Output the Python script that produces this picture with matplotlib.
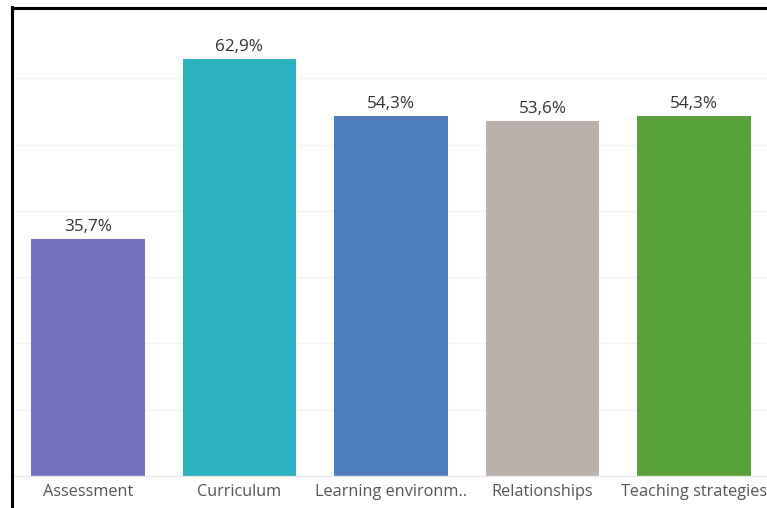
import matplotlib
matplotlib.use("Agg")
import matplotlib.pyplot as plt
from matplotlib.lines import Line2D

categories = ["Assessment", "Curriculum", "Learning environm..", "Relationships", "Teaching strategies"]
values = [35.7, 62.9, 54.3, 53.6, 54.3]
colors = ["#7672BE", "#2DB3BF", "#4F7DBB", "#BAB1AC", "#59A23B"]

plt.rcParams["font.family"] = ["Open Sans", "DejaVu Sans"]

W, H = 767, 508
fig = plt.figure(figsize=(W / 100, H / 100), dpi=100)
ax = fig.add_axes([12 / W, (H - 476) / H, 758 / W, (476 - 8) / H])

x = list(range(len(categories)))
bars = ax.bar(x, values, width=0.75, color=colors, zorder=2)
for xi, v in zip(x, values):
    ax.text(xi, v + 0.6, f"{v:.1f}%".replace(".", ","), ha="center", va="bottom",
            fontsize=12.3, color="#333333")

ax.set_xlim(-0.5, len(categories) - 0.5)
ax.set_ylim(0, 70.6)
ax.set_yticks([10, 20, 30, 40, 50, 60])
ax.yaxis.grid(True, color="#F2F2F2", linewidth=1, zorder=0)
ax.tick_params(axis="y", left=False, labelleft=False)
ax.tick_params(axis="x", length=0, pad=6, labelsize=11.7, labelcolor="#555555")
ax.set_xticks(x)
ax.set_xticklabels(categories)
for s in ["top", "right", "left"]:
    ax.spines[s].set_visible(False)
ax.spines["bottom"].set_color("#E8E8E8")
ax.spines["bottom"].set_linewidth(1)

# dark frame on the left and top edges
fig.add_artist(Line2D([11.5 / W, 11.5 / W], [0, 1 - 7 / H], transform=fig.transFigure,
                      color="black", linewidth=2.2, solid_capstyle="projecting"))
fig.add_artist(Line2D([11.5 / W, 1], [1 - 8 / H, 1 - 8 / H], transform=fig.transFigure,
                      color="black", linewidth=2.2))

fig.savefig("out.png", dpi=100)
